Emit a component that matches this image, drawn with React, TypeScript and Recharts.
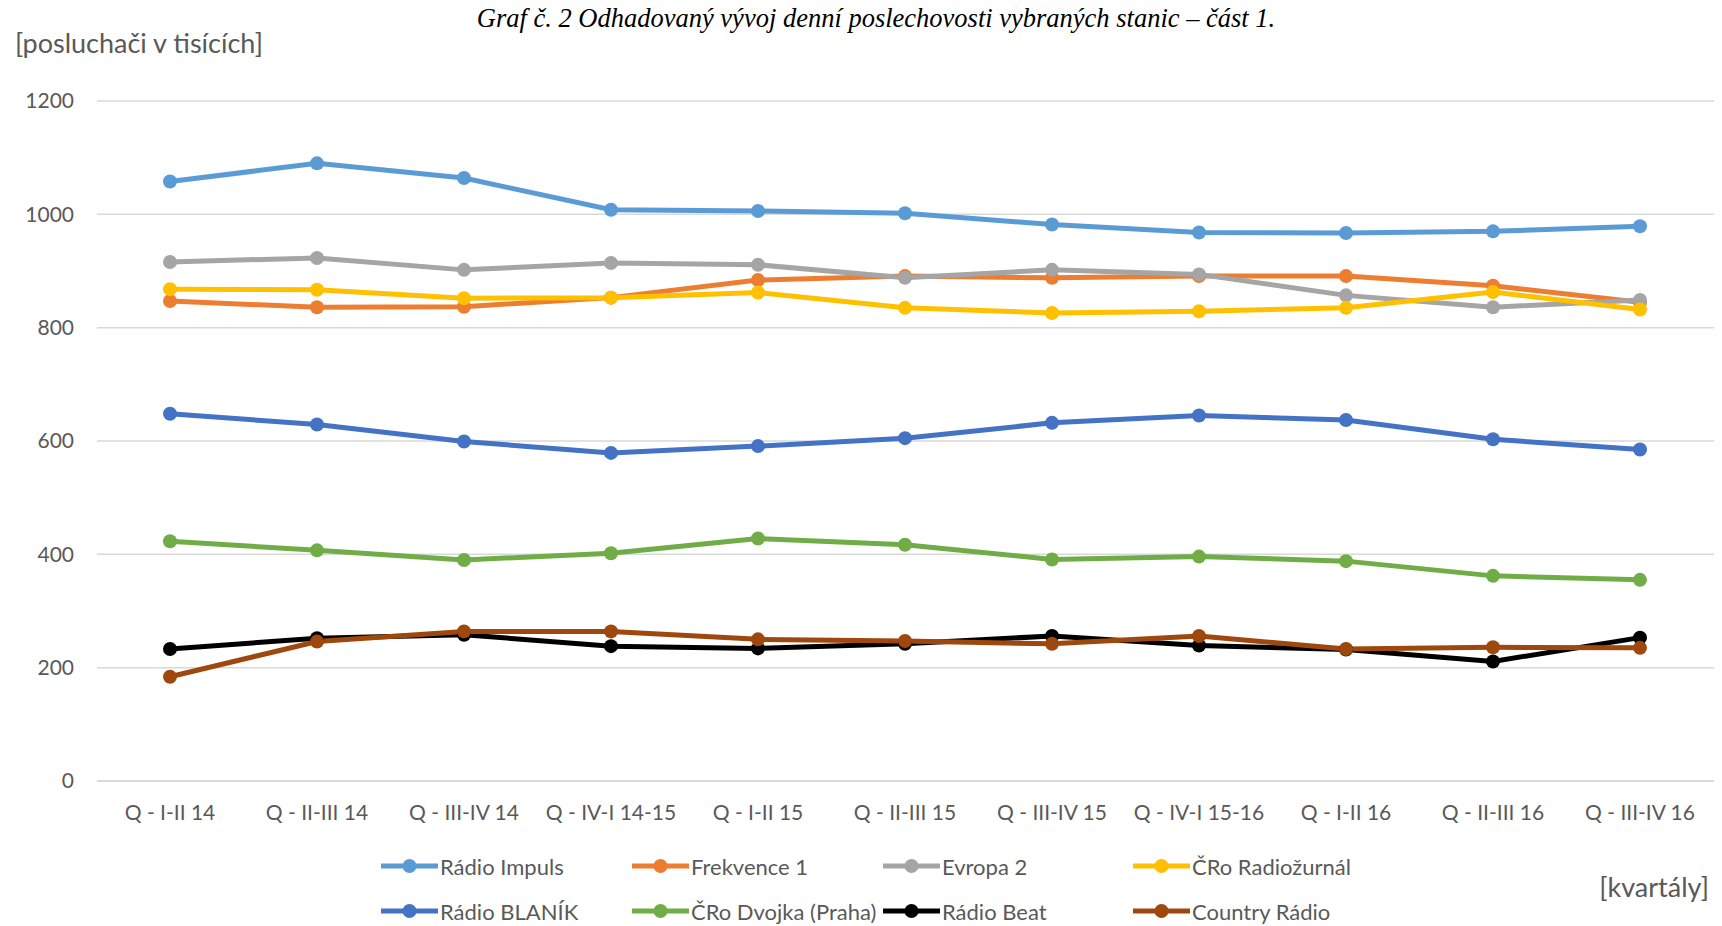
import React from 'react';
import { LineChart, Line, XAxis, YAxis, CartesianGrid } from 'recharts';

const quarters = [
  'Q - I-II 14', 'Q - II-III 14', 'Q - III-IV 14', 'Q - IV-I 14-15', 'Q - I-II 15', 'Q - II-III 15',
  'Q - III-IV 15', 'Q - IV-I 15-16', 'Q - I-II 16', 'Q - II-III 16', 'Q - III-IV 16',
];

const radioImpuls = [1058, 1090, 1064, 1008, 1006, 1002, 982, 968, 967, 970, 979];
const frekvence1 = [847, 836, 837, 853, 884, 891, 888, 891, 891, 874, 845];
const evropa2 = [916, 923, 902, 914, 911, 888, 902, 894, 857, 836, 849];
const croRadiozurnal = [868, 867, 852, 853, 862, 835, 826, 829, 835, 863, 832];
const radioBlanik = [648, 629, 599, 579, 591, 605, 632, 645, 637, 603, 585];
const croDvojka = [423, 407, 390, 402, 428, 417, 391, 396, 388, 362, 355];
const radioBeat = [233, 252, 258, 238, 234, 242, 256, 239, 232, 211, 253];
const countryRadio = [184, 246, 264, 264, 250, 247, 242, 256, 233, 236, 235];

const yTicks = [0, 200, 400, 600, 800, 1000, 1200];

const series = [
  { key: 'impuls', name: 'Rádio Impuls', color: '#5B9BD5', values: radioImpuls },
  { key: 'frekvence', name: 'Frekvence 1', color: '#ED7D31', values: frekvence1 },
  { key: 'evropa', name: 'Evropa 2', color: '#A5A5A5', values: evropa2 },
  { key: 'radiozurnal', name: 'ČRo Radiožurnál', color: '#FFC000', values: croRadiozurnal },
  { key: 'blanik', name: 'Rádio BLANÍK', color: '#4472C4', values: radioBlanik },
  { key: 'dvojka', name: 'ČRo Dvojka (Praha)', color: '#70AD47', values: croDvojka },
  { key: 'beat', name: 'Rádio Beat', color: '#000000', values: radioBeat },
  { key: 'country', name: 'Country Rádio', color: '#9E480E', values: countryRadio },
];

const data = quarters.map((q, i) => {
  const row: Record<string, string | number> = { quarter: q };
  series.forEach((s) => { row[s.key] = s.values[i]; });
  return row;
});

const FONT = 'Lato, "Open Sans", sans-serif';
const TEXT = '#595959';

// two rows of four, Excel-style legend
const legendColumns = [381, 632, 883, 1133];
const legendRows = [866, 911];

const ChartLegend = () => (
  <>
    {series.map((s, i) => {
      const left = legendColumns[i % 4];
      const top = legendRows[Math.floor(i / 4)];
      return (
        <div key={s.key} style={{ position: 'absolute', left, top: top - 14, height: 28, display: 'flex', alignItems: 'center', whiteSpace: 'nowrap' }}>
          <svg width={57} height={20} style={{ display: 'block' }}>
            <line x1={0} y1={10} x2={57} y2={10} stroke={s.color} strokeWidth={5} />
            <circle cx={28.5} cy={10} r={7} fill={s.color} />
          </svg>
          <span style={{ marginLeft: 2, fontFamily: FONT, fontSize: 22, color: TEXT }}>{s.name}</span>
        </div>
      );
    })}
  </>
);

export default function App() {
  return (
    <div style={{ position: 'absolute', left: 0, top: 0, width: 1722, height: 926, background: '#fff', overflow: 'hidden' }}>
      <LineChart width={1722} height={926} data={data} margin={{ top: 101, right: 8, bottom: 105, left: 0 }}>
        <CartesianGrid vertical={false} stroke="#D9D9D9" strokeWidth={1.5} />
        <XAxis
          dataKey="quarter"
          height={40}
          padding={{ left: 73, right: 74 }}
          axisLine={{ stroke: '#D9D9D9', strokeWidth: 1.5 }}
          tickLine={false}
          tickSize={0}
          tickMargin={24}
          interval={0}
          tick={{ fill: TEXT, fontSize: 21, fontFamily: FONT }}
        />
        <YAxis
          width={97}
          domain={[0, 1200]}
          ticks={yTicks}
          axisLine={false}
          tickLine={false}
          tickSize={0}
          tickMargin={23}
          tick={{ fill: TEXT, fontSize: 21, fontFamily: FONT }}
        />
        {series.map((s) => (
          <Line
            key={s.key}
            dataKey={s.key}
            name={s.name}
            type="linear"
            stroke={s.color}
            strokeWidth={5}
            dot={{ r: 7, fill: s.color, stroke: s.color, strokeWidth: 0 }}
            activeDot={false}
            isAnimationActive={false}
          />
        ))}
      </LineChart>
      <div style={{ position: 'absolute', left: 0, width: 1752, top: 3, textAlign: 'center', fontFamily: '"Liberation Serif", "Times New Roman", serif', fontStyle: 'italic', fontSize: 26.5, color: '#000' }}>
        Graf č. 2 Odhadovaný vývoj denní poslechovosti vybraných stanic – část 1.
      </div>
      <div style={{ position: 'absolute', left: 15, top: 26, fontFamily: FONT, fontSize: 27, color: TEXT }}>
        [posluchači v tisících]
      </div>
      <div style={{ position: 'absolute', right: 13, top: 870, fontFamily: FONT, fontSize: 27, color: TEXT }}>
        [kvartály]
      </div>
      <ChartLegend />
    </div>
  );
}
